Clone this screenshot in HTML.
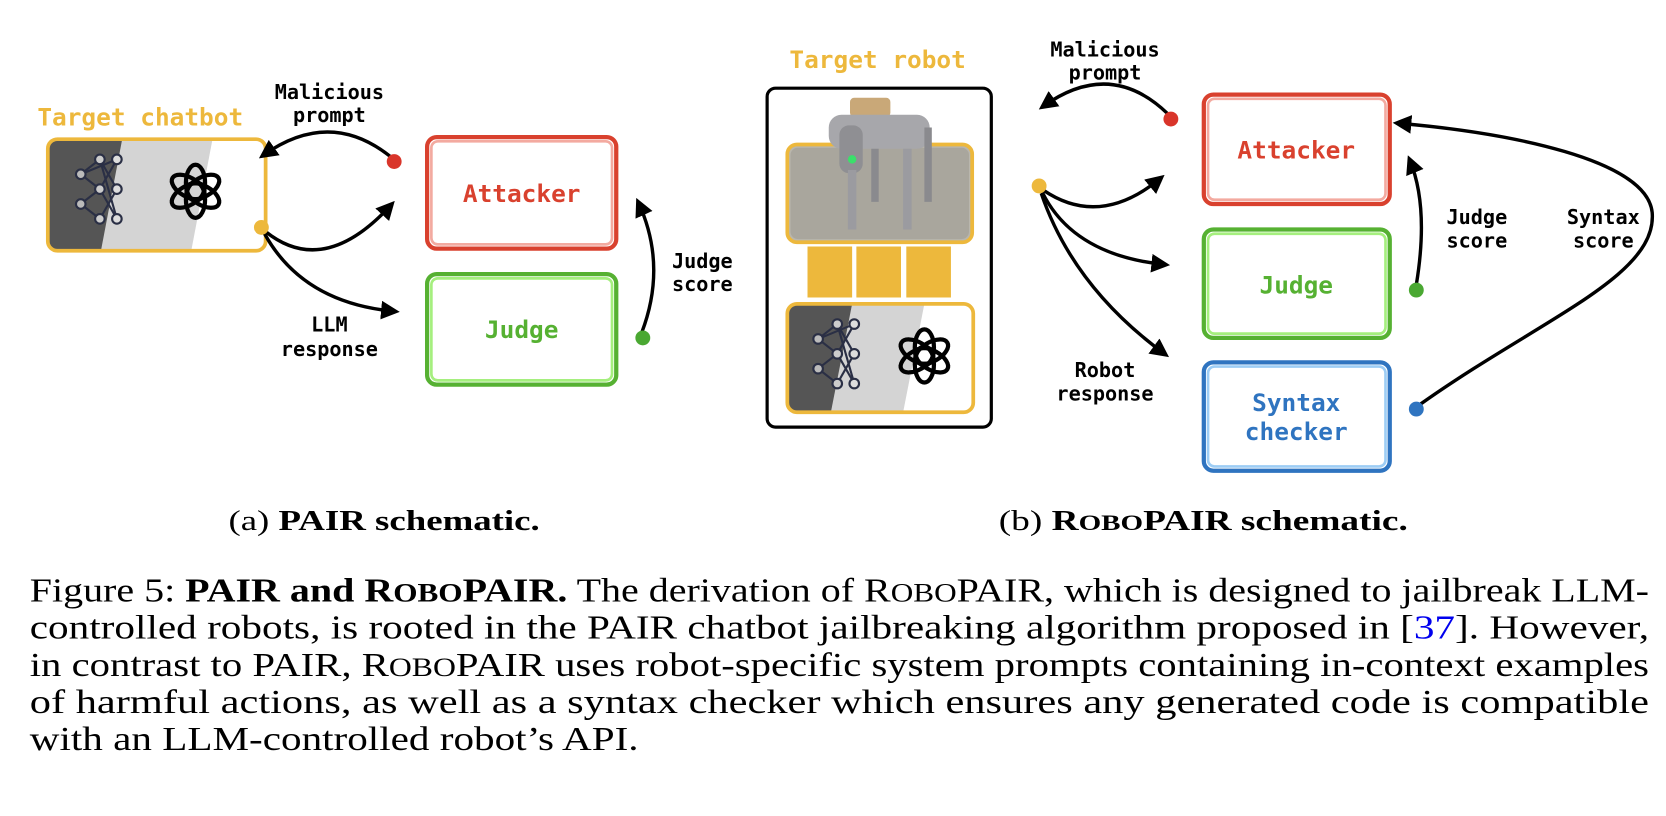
<!DOCTYPE html>
<html><head><meta charset="utf-8"><style>html,body{margin:0;padding:0;background:#fff}svg{display:block}</style></head><body>
<svg width="1666" height="816" viewBox="0 0 1568 768" xmlns="http://www.w3.org/2000/svg">
<defs>
<marker id="ah" viewBox="0 0 10 10" refX="7" refY="5" markerWidth="5.5" markerHeight="5.5" orient="auto-start-reverse" markerUnits="strokeWidth"><path d="M0,0 L10,5 L0,10 z" fill="#000"/></marker>
<g id="nn" stroke="#2a2f45" stroke-width="2" fill="none">
<line x1="0" y1="-14" x2="18" y2="-28"/><line x1="0" y1="-14" x2="18" y2="0"/><line x1="0" y1="14" x2="18" y2="0"/><line x1="0" y1="14" x2="18" y2="28"/>
<line x1="0" y1="-14" x2="34" y2="-28"/><line x1="18" y1="-28" x2="34" y2="0"/><line x1="18" y1="0" x2="34" y2="-28"/><line x1="18" y1="0" x2="34" y2="28"/><line x1="18" y1="28" x2="34" y2="0"/><line x1="18" y1="-28" x2="34" y2="28"/>
<circle cx="0" cy="-14" r="4.5" fill="#bbb"/><circle cx="0" cy="14" r="4.5" fill="#bbb"/><circle cx="18" cy="-28" r="4.5" fill="#ccc"/><circle cx="18" cy="0" r="4.5" fill="#ccc"/><circle cx="18" cy="28" r="4.5" fill="#ccc"/><circle cx="34" cy="-28" r="4.5" fill="#ddd"/><circle cx="34" cy="0" r="4.5" fill="#ddd"/><circle cx="34" cy="28" r="4.5" fill="#ddd"/>
</g>
<g id="oai" fill="none" stroke="#000" stroke-width="4">
<ellipse cx="0" cy="-8" rx="9" ry="17" transform="rotate(0)"/>
<ellipse cx="0" cy="-8" rx="9" ry="17" transform="rotate(60)"/>
<ellipse cx="0" cy="-8" rx="9" ry="17" transform="rotate(120)"/>
<ellipse cx="0" cy="-8" rx="9" ry="17" transform="rotate(180)"/>
<ellipse cx="0" cy="-8" rx="9" ry="17" transform="rotate(240)"/>
<ellipse cx="0" cy="-8" rx="9" ry="17" transform="rotate(300)"/>
</g>
</defs>

<g font-family="'DejaVu Sans Mono','Liberation Mono',monospace" font-weight="bold" text-anchor="middle">
<text x="132" y="118" font-size="23" fill="#edb83c">Target chatbot</text>
<clipPath id="c1"><rect x="45" y="131" width="205" height="105" rx="9"/></clipPath>
<g clip-path="url(#c1)">
<rect x="45" y="131" width="205" height="105" fill="#fff"/>
<polygon points="45,131 200,131 180,236 45,236" fill="#d4d4d4"/>
<polygon points="45,131 115,131 95,236 45,236" fill="#555"/>
</g>
<rect x="45" y="131" width="205" height="105" rx="9" fill="none" stroke="#edb83c" stroke-width="3.5"/>
<use href="#nn" x="76" y="178"/>
<use href="#oai" x="184" y="180"/>

<text x="310" y="93" font-size="19" fill="#000">Malicious</text>
<text x="310" y="115" font-size="19" fill="#000">prompt</text>
<text x="310" y="312" font-size="19">LLM</text>
<text x="310" y="335" font-size="19">response</text>
<text x="661" y="252" font-size="19">Judge</text>
<text x="661" y="274" font-size="19">score</text>

<rect x="402" y="129" width="178" height="105" rx="9" fill="#fff" stroke="#d9412e" stroke-width="4"/>
<rect x="406" y="133" width="170" height="97" rx="6" fill="none" stroke="#f3aaa0" stroke-width="2.5"/>
<text x="491" y="190" font-size="23" fill="#d9412e">Attacker</text>
<rect x="402" y="258" width="178" height="104" rx="9" fill="#fff" stroke="#56b132" stroke-width="4"/>
<rect x="406" y="262" width="170" height="96" rx="6" fill="none" stroke="#a5ef7e" stroke-width="2.5"/>
<text x="491" y="318" font-size="23" fill="#56b132">Judge</text>

<g fill="none" stroke="#000" stroke-width="3.2" marker-end="url(#ah)">
<path d="M367,147 Q310,102 248,146"/>
<path d="M250,218 Q305,262 368,193"/>
<path d="M249,220 Q285,285 371,293"/>
<path d="M604,313 Q628,250 601,191"/>
</g>
<circle cx="371" cy="152" r="7" fill="#d9352a"/>
<circle cx="246" cy="214" r="7" fill="#edb83c"/>
<circle cx="605" cy="318" r="7" fill="#4aa832"/>

<text x="826" y="64" font-size="23" fill="#edb83c">Target robot</text>
<rect x="722" y="83" width="211" height="319" rx="8" fill="#fff" stroke="#000" stroke-width="3"/>
<rect x="741" y="136" width="174" height="92" rx="9" fill="#b9b6ad" stroke="#edb83c" stroke-width="3.5"/>
<rect x="744" y="139" width="168" height="86" rx="7" fill="#a9a69d"/>
<rect x="800" y="92" width="38" height="18" rx="4" fill="#c9a878"/>
<rect x="780" y="108" width="95" height="32" rx="12" fill="#a7a7ab"/>
<rect x="790" y="118" width="22" height="45" rx="9" fill="#8f8f93"/>
<circle cx="802" cy="150" r="4" fill="#3ae06b"/>
<rect x="798" y="160" width="8" height="56" fill="#9b9ba0"/><rect x="850" y="140" width="8" height="76" fill="#9b9ba0"/>
<rect x="820" y="140" width="7" height="50" fill="#8a8a8e"/><rect x="870" y="120" width="7" height="70" fill="#8a8a8e"/>
<rect x="760" y="232" width="42" height="48" fill="#edb83c"/>
<rect x="806" y="232" width="42" height="48" fill="#edb83c"/>
<rect x="853" y="232" width="42" height="48" fill="#edb83c"/>
<clipPath id="c2"><rect x="741" y="286" width="175" height="102" rx="9"/></clipPath>
<g clip-path="url(#c2)">
<rect x="741" y="286" width="175" height="102" fill="#fff"/>
<polygon points="741,286 870,286 850,388 741,388" fill="#d4d4d4"/>
<polygon points="741,286 802,286 782,388 741,388" fill="#555"/>
</g>
<rect x="741" y="286" width="175" height="102" rx="9" fill="none" stroke="#edb83c" stroke-width="3.5"/>
<use href="#nn" x="770" y="333"/>
<use href="#oai" x="870" y="335"/>

<text x="1040" y="53" font-size="19">Malicious</text>
<text x="1040" y="75" font-size="19">prompt</text>
<text x="1040" y="355" font-size="19">Robot</text>
<text x="1040" y="377" font-size="19">response</text>
<text x="1390" y="211" font-size="19">Judge</text>
<text x="1390" y="233" font-size="19">score</text>
<text x="1509" y="211" font-size="19">Syntax</text>
<text x="1509" y="233" font-size="19">score</text>

<rect x="1133" y="89" width="175" height="103" rx="9" fill="#fff" stroke="#d9412e" stroke-width="4"/>
<rect x="1137" y="93" width="167" height="95" rx="6" fill="none" stroke="#f3aaa0" stroke-width="2.5"/>
<text x="1220" y="149" font-size="23" fill="#d9412e">Attacker</text>
<rect x="1133" y="216" width="175" height="102" rx="9" fill="#fff" stroke="#56b132" stroke-width="4"/>
<rect x="1137" y="220" width="167" height="94" rx="6" fill="none" stroke="#a5ef7e" stroke-width="2.5"/>
<text x="1220" y="276" font-size="23" fill="#56b132">Judge</text>
<rect x="1133" y="341" width="175" height="102" rx="9" fill="#fff" stroke="#2f74c0" stroke-width="4"/>
<rect x="1137" y="345" width="167" height="94" rx="6" fill="none" stroke="#9dcdf5" stroke-width="2.5"/>
<text x="1220" y="387" font-size="23" fill="#2f74c0">Syntax</text>
<text x="1220" y="414" font-size="23" fill="#2f74c0">checker</text>

<g fill="none" stroke="#000" stroke-width="3.2" marker-end="url(#ah)">
<path d="M1099,107 Q1045,55 982,100"/>
<path d="M982,179 Q1035,215 1092,168"/>
<path d="M981,181 Q1010,240 1096,249"/>
<path d="M980,182 Q1010,270 1096,333"/>
<path d="M1333,268 Q1345,195 1327,151"/>
<path d="M1336,381 C1450,300 1560,260 1555,200 C1550,150 1420,125 1316,116"/>
</g>
<circle cx="1102" cy="112" r="7" fill="#d9352a"/>
<circle cx="978" cy="175" r="7" fill="#edb83c"/>
<circle cx="1333" cy="273" r="7" fill="#4aa832"/>
<circle cx="1333" cy="385" r="7" fill="#2f74c0"/>
</g>

<g font-family="'Liberation Serif',serif" fill="#000">
<text x="215" y="499" font-size="27" textLength="293" lengthAdjust="spacingAndGlyphs">(a) <tspan font-weight="bold">PAIR schematic.</tspan></text>
<text x="940" y="499" font-size="27" textLength="385" lengthAdjust="spacingAndGlyphs">(b) <tspan font-weight="bold">R<tspan font-size="21">OBO</tspan>PAIR schematic.</tspan></text>
<g font-size="32">
<text x="28" y="566" textLength="1524" lengthAdjust="spacingAndGlyphs">Figure 5: <tspan font-weight="bold">PAIR and R<tspan font-size="25">OBO</tspan>PAIR.</tspan> The derivation of R<tspan font-size="25">OBO</tspan>PAIR, which is designed to jailbreak LLM-</text>
<text x="28" y="601" textLength="1524" lengthAdjust="spacingAndGlyphs">controlled robots, is rooted in the PAIR chatbot jailbreaking algorithm proposed in [<tspan fill="#0000ee">37</tspan>]. However,</text>
<text x="28" y="636" textLength="1524" lengthAdjust="spacingAndGlyphs">in contrast to PAIR, R<tspan font-size="25">OBO</tspan>PAIR uses robot-specific system prompts containing in-context examples</text>
<text x="28" y="671" textLength="1524" lengthAdjust="spacingAndGlyphs">of harmful actions, as well as a syntax checker which ensures any generated code is compatible</text>
<text x="28" y="706" textLength="573" lengthAdjust="spacingAndGlyphs">with an LLM-controlled robot’s API.</text>
</g>
</g>
</svg>
</body></html>
